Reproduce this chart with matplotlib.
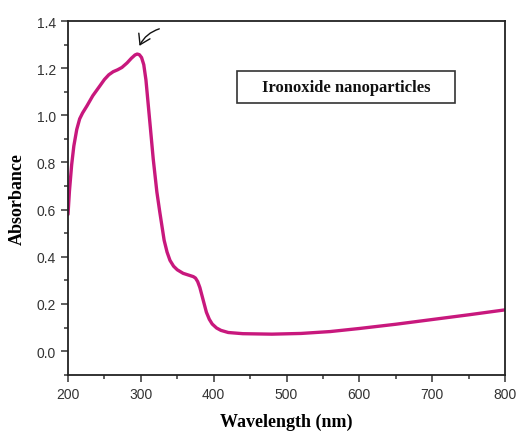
import numpy as np
import matplotlib
matplotlib.use('Agg')
import matplotlib.pyplot as plt
from matplotlib.patches import Rectangle
from matplotlib.ticker import MultipleLocator, FormatStrFormatter

# UV-vis spectrum
wavelength = [200, 202, 205, 208, 212, 216, 220, 226, 234, 244, 250, 256, 262,
              268, 274, 281, 287, 292, 295, 298, 301, 304, 307, 310, 313, 317,
              322, 326, 329, 332, 336, 340, 345, 350, 358, 366, 372, 375, 378,
              381, 384, 387, 390, 394, 398, 404, 410, 420, 440, 480, 520, 560,
              600, 650, 700, 750, 800]
absorbance = [0.58, 0.68, 0.79, 0.87, 0.94, 0.985, 1.01, 1.04, 1.083, 1.126,
              1.152, 1.172, 1.185, 1.193, 1.203, 1.222, 1.242, 1.256, 1.26,
              1.257, 1.245, 1.215, 1.15, 1.05, 0.95, 0.815, 0.675, 0.59, 0.53,
              0.47, 0.42, 0.385, 0.36, 0.345, 0.33, 0.322, 0.316, 0.31, 0.295,
              0.27, 0.235, 0.20, 0.165, 0.135, 0.115, 0.098, 0.088, 0.079,
              0.074, 0.072, 0.075, 0.083, 0.096, 0.114, 0.134, 0.154, 0.175]
label_text = 'Ironoxide nanoparticles'

serif = ['Liberation Serif', 'DejaVu Serif']
sans = ['Liberation Sans', 'DejaVu Sans']

fig = plt.figure(figsize=(5.16, 4.35), dpi=100)
ax = fig.add_axes([0.1318, 0.1363, 0.8469, 0.8131])

ax.plot(wavelength, absorbance, color='#c8187d', lw=2.4,
        solid_capstyle='round', solid_joinstyle='round')

ax.set_xlim(200, 800)
ax.set_ylim(-0.1, 1.4)
ax.xaxis.set_major_locator(MultipleLocator(100))
ax.xaxis.set_minor_locator(MultipleLocator(50))
ax.yaxis.set_minor_locator(MultipleLocator(0.1))
ax.yaxis.set_major_formatter(FormatStrFormatter('%.1f'))
ax.set_yticks(np.arange(0, 1.41, 0.2))

for s in ax.spines.values():
    s.set_linewidth(1.3)
    s.set_color('#222222')
ax.tick_params(which='both', direction='out', top=False, right=False,
               width=1.1, color='#333333')
ax.tick_params(which='major', length=5)
ax.tick_params(which='minor', length=3)
for lab in ax.get_xticklabels() + ax.get_yticklabels():
    lab.set_family(sans)
    lab.set_fontsize(10)
    lab.set_color('#333333')

ax.set_xlabel('Wavelength (nm)', family=serif, fontsize=13,
              fontweight='bold', labelpad=9)
ax.set_ylabel('Absorbance', family=serif, fontsize=13,
              fontweight='bold', labelpad=8)

# label box
bx0, by0 = (237 - 68) / 437, (375.7 - 104) / 353.7
bw, bh = (455 - 237) / 437, (104 - 72) / 353.7
ax.add_patch(Rectangle((bx0, by0), bw, bh, transform=ax.transAxes,
                       fill=False, lw=1.2, ec='#333333'))
ax.text(bx0 + bw / 2, by0 + bh / 2, label_text, transform=ax.transAxes,
        ha='center', va='center', family=serif, fontsize=12,
        fontweight='bold', color='#111111')

# hand drawn arrow pointing at the peak
ax.annotate('', xy=(296.5, 1.284), xytext=(329, 1.37),
            arrowprops=dict(arrowstyle='->,head_length=0.7,head_width=0.45',
                            connectionstyle='arc3,rad=0.25',
                            color='#111111', lw=1.0))

fig.savefig('out.png', dpi=100)
